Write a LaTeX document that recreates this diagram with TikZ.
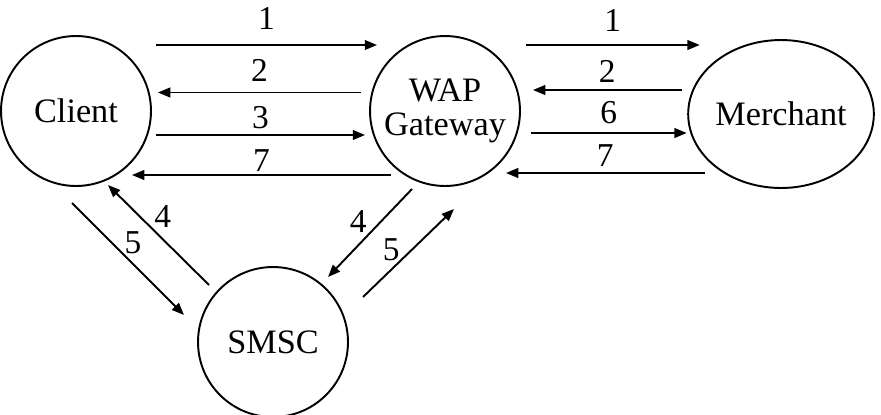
\documentclass[tikz,border=0pt]{standalone}
\usepackage{fontspec}
\setmainfont{Liberation Serif}
\usetikzlibrary{arrows.meta,shapes.geometric}

\begin{document}
\begin{tikzpicture}[
  x=0.02cm,y=0.02cm,
  >={Triangle[length=7pt,width=5.5pt]},
  party/.style={circle,draw,line width=1.1pt,minimum size=3cm,inner sep=0pt,
    align=center,font=\fontsize{19.5}{19}\selectfont},
  flow/.style={->,line width=1.1pt},
  num/.style={inner sep=0pt,font=\fontsize{19}{19}\selectfont}
]
\useasboundingbox (0,0) rectangle (881,414);
% the four parties
\node[party] (client) at (76,303) {Client};
\node[party] (wap) at (445,303) {WAP\\Gateway};
\node[party,ellipse,minimum width=3.34cm,minimum height=2.96cm] (merchant) at (781,300) {Merchant};
\node[party] (smsc) at (273,72) {SMSC};
% client <-> gateway
\draw[flow] ([shift={(4,66)}]client.east) -- node[num,above=0.3cm]{1} ([shift={(8,66)}]wap.west);
\draw[flow] ([shift={(-8,18.5)}]wap.west) -- node[num,above=0.2cm]{2} ([shift={(6,18.5)}]client.east);
\draw[flow] ([shift={(4,-24)}]client.east) -- node[num,above=0.1cm]{3} ([shift={(-4,-24)}]wap.west);
\draw[flow] ([shift={(22,-64)}]wap.west) -- node[num,above=0.06cm]{7} ([shift={(-20,-64)}]client.east);
% gateway <-> merchant
\draw[flow] ([shift={(5,66)}]wap.east) -- node[num,above=0.26cm]{1} ([shift={(12.5,69)}]merchant.west);
\draw[flow] ([shift={(-5.5,24)}]merchant.west) -- node[num,above=0.14cm]{2} ([shift={(12,21)}]wap.east);
\draw[flow] ([shift={(10,-22)}]wap.east) -- node[num,above=0.16cm]{6} ([shift={(-0.5,-19)}]merchant.west);
\draw[flow] ([shift={(17.5,-59)}]merchant.west) -- node[num,above=0.12cm]{7} ([shift={(-15,-62)}]wap.east);
% push via the SMSC
\draw[flow] ([shift={(-4,-92)}]client.center) -- node[num,pos=0.45,shift={(10.5,10.5)}]{5} ([shift={(-89,27)}]smsc.center);
\draw[flow] ([shift={(-64,57)}]smsc.center) -- node[num,pos=0.57,shift={(11.3,11.3)}]{4} ([shift={(32,-74)}]client.center);
\draw[flow] ([shift={(-33,-78)}]wap.center) -- node[num,pos=0.5,shift={(-11.8,11.2)}]{4} ([shift={(55,65)}]smsc.center);
\draw[flow] ([shift={(90,45)}]smsc.center) -- node[num,pos=0.42,shift={(-10,10.3)}]{5} ([shift={(9,-98)}]wap.center);
\end{tikzpicture}
\end{document}
